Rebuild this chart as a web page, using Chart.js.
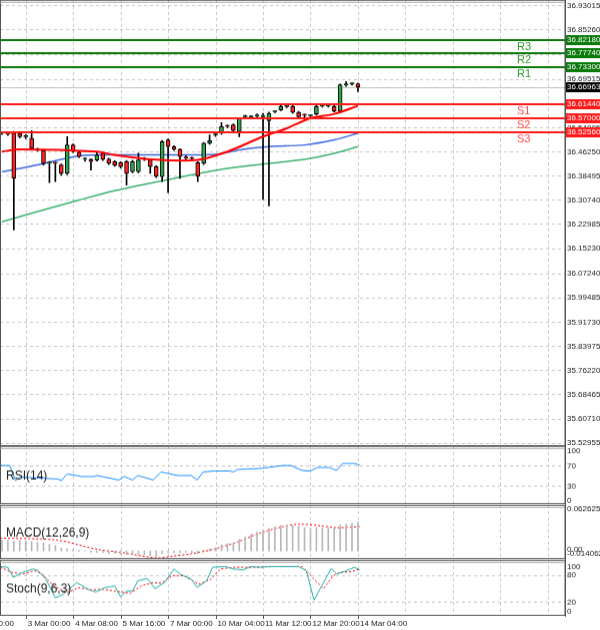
<!DOCTYPE html>
<html><head><meta charset="utf-8">
<script src="https://cdn.jsdelivr.net/npm/chart.js@4.4.1/dist/chart.umd.min.js"></script>
<style>
html,body{margin:0;padding:0;background:#fff;width:600px;height:630px;overflow:hidden;position:relative}
canvas{position:absolute;left:0}
</style></head><body>
<canvas id="cMain"></canvas>
<canvas id="cRsi"></canvas>
<canvas id="cMacd"></canvas>
<canvas id="cSto"></canvas>
<script>
// ---------- DATA ----------
const opens  = [36.5220,36.5210,36.5230,36.5220,36.5113,36.5060,36.4708,36.4665,36.4259,36.4270,36.4205,36.3938,36.4846,36.4611,36.4388,36.4387,36.4366,36.4579,36.4387,36.4312,36.4280,36.4312,36.3992,36.3992,36.4419,36.4366,36.4152,36.3831,36.5007,36.4793,36.4708,36.4440,36.4419,36.4280,36.4259,36.4900,36.5167,36.5220,36.5455,36.5487,36.5274,36.5754,36.5744,36.5775,36.5754,36.5626,36.5914,36.5968,36.6075,36.6075,36.5893,36.5807,36.5786,36.5840,36.6096,36.6096,36.6075,36.5936,36.6770,36.6802,36.6802];
const closes = [36.5230,36.5190,36.3788,36.5113,36.5135,36.4739,36.4690,36.4259,36.4270,36.4259,36.3938,36.4846,36.4633,36.4472,36.4398,36.4312,36.4526,36.4387,36.4259,36.4205,36.4152,36.3938,36.4312,36.4366,36.4387,36.4152,36.3853,36.4953,36.4793,36.4708,36.4472,36.4430,36.4408,36.3853,36.4900,36.4985,36.5177,36.5434,36.5445,36.5306,36.5690,36.5764,36.5754,36.5786,36.5764,36.5861,36.5925,36.6075,36.6085,36.5893,36.5754,36.5800,36.5796,36.6075,36.6106,36.6100,36.5936,36.6770,36.6780,36.6806,36.6696];
const highs  = [36.5260,36.5240,36.5280,36.5250,36.5180,36.5305,36.4740,36.4700,36.4320,36.4300,36.4240,36.5113,36.4880,36.4640,36.4440,36.4410,36.4633,36.4620,36.4420,36.4340,36.4310,36.4350,36.4360,36.4579,36.4450,36.4400,36.4180,36.4990,36.5040,36.4820,36.4730,36.4500,36.4460,36.4320,36.4930,36.5167,36.5220,36.5562,36.5490,36.5520,36.5720,36.5800,36.5790,36.5840,36.5861,36.5900,36.5950,36.6110,36.6120,36.6110,36.5920,36.5840,36.5820,36.6110,36.6140,36.6140,36.6110,36.6800,36.6876,36.6840,36.6830];
const lows   = [36.5180,36.5150,36.2122,36.5080,36.5050,36.4686,36.4650,36.4205,36.3639,36.3670,36.3880,36.3900,36.4600,36.4440,36.4320,36.4045,36.4330,36.4350,36.4220,36.4160,36.4110,36.3564,36.3950,36.3950,36.4350,36.3938,36.3800,36.3671,36.3318,36.4670,36.3778,36.4380,36.4360,36.3671,36.4220,36.4870,36.5120,36.5190,36.5400,36.5270,36.5113,36.5720,36.5710,36.5740,36.3105,36.2891,36.5880,36.5940,36.6040,36.5860,36.5700,36.5648,36.5750,36.5810,36.6060,36.6060,36.5900,36.5900,36.6720,36.6760,36.6556];
const maRed   = [[0,36.4633],[3,36.4708],[16,36.4633],[19,36.4526],[25,36.4387],[33,36.4366],[38,36.4633],[44,36.5113],[48,36.5381],[52,36.5700],[56,36.5840],[60,36.6096]];
const maBlue  = [[0,36.3992],[6,36.4205],[13,36.4494],[19,36.4526],[36,36.4547],[40,36.4686],[45,36.4793],[51,36.4846],[56,36.5007],[60,36.5220]];
const maGreen = [[0,36.2389],[13,36.3083],[19,36.3383],[29,36.3778],[38,36.4099],[51,36.4387],[56,36.4579],[60,36.4793]];
const resistance = [36.73300,36.77740,36.82180];
const resistanceNames = ["R1","R2","R3"];
const support = [36.61440,36.57000,36.52560];
const supportNames = ["S1","S2","S3"];
const lastPrice = 36.66963;
const priceTicks = [36.93015,36.85260,36.77505,36.69515,36.61760,36.54005,36.46250,36.38495,36.30740,36.22985,36.15230,36.07240,35.99485,35.91730,35.83975,35.76220,35.68465,35.60710,35.52955];
const rsi = [[-0.3,71],[1.3,71],[2.3,41],[3,48],[9.4,44],[10,41],[11,54],[13.5,49],[15.5,49],[16,51],[19.7,42],[20.6,49],[22,42],[22.9,51],[25.5,42],[26.8,58],[29.7,51],[31.9,51],[32.9,42],[33.9,58],[35.8,60],[38.4,60],[39,58],[39.7,63],[43.5,65],[44.8,67],[47.4,71],[48.7,71],[50.6,61],[51.9,60],[53.2,67],[55.2,67],[56.4,61],[57.4,75],[59.4,75],[60.3,72]];
const macdHist = [0.016,0.016,0.015,0.016,0.015,0.014,0.013,0.012,0.010,0.008,0.004,0.003,0.002,0.001,0.000,-0.002,-0.003,-0.003,-0.004,-0.004,-0.005,-0.006,-0.005,-0.005,-0.006,-0.007,-0.008,-0.004,-0.003,-0.003,-0.003,-0.002,-0.002,-0.004,0.001,0.003,0.005,0.009,0.011,0.012,0.017,0.021,0.025,0.028,0.031,0.034,0.036,0.038,0.039,0.038,0.037,0.035,0.034,0.035,0.035,0.035,0.034,0.039,0.040,0.041,0.043];
const macdSignal = [[-0.3,0.0193],[9.3,0.0161],[15.8,0.0027],[20.3,-0.0027],[26.1,-0.0107],[28.7,-0.0080],[31.9,-0.0043],[35.8,0.0027],[39.7,0.0134],[43.5,0.0268],[47.4,0.0364],[50,0.0401],[53.9,0.0375],[56.4,0.0348],[60.3,0.0364]];
const stochMain = [[-0.3,100],[1,98.5],[1.9,75.8],[3.5,87.2],[5.2,94.7],[6.1,91],[7.4,72],[9,30.3],[10.3,37.9],[12.6,64.4],[14.5,49.3],[15.8,43.2],[17.4,53.1],[19,56.9],[20,32.6],[21,45.5],[22,45.5],[22.9,68.2],[24.5,73.5],[25.8,50.8],[27.4,64.4],[29,94.7],[30,83.4],[31.9,72],[32.9,53.1],[34.5,68.2],[35.5,98.5],[37.7,100],[39,94.7],[40.6,92.5],[41.9,100],[43.5,98.5],[44.8,100],[46.8,100],[48.7,100],[50,100],[51.3,91],[52.6,25],[53.9,56.9],[55.5,96],[56.4,83.4],[57.7,88.7],[59.4,98.5],[60.3,92.5]];
const stochSignal = [[-0.3,98.5],[1.6,87.2],[3.5,83.4],[5.5,91],[6.8,83.4],[8.7,56.9],[11,41.7],[12.9,53.1],[15.2,47.8],[17.1,49.3],[19,45.5],[21.6,40.2],[23.5,56.9],[25.5,64.4],[26.8,62.9],[28.7,79.6],[30.6,79.6],[33.2,60.6],[35.2,72],[36.8,94.7],[39,98.5],[42.3,98.5],[46.1,100],[48.7,100],[50.6,100],[52.6,72],[54.2,50.8],[55.8,79.6],[57.1,87.2],[59,88.7],[60.3,94.7]];
const timeTicks = [-5.5,4,12,20,28,36,44,52,60];
const timeLabels = ["2 Mar 20:00","3 Mar 00:00","4 Mar 08:00","5 Mar 16:00","7 Mar 00:00","10 Mar 04:00","11 Mar 12:00","12 Mar 20:00","14 Mar 04:00"];

// ---------- HELPERS ----------
const X_MIN=-0.33, X_MAX=94.9, AXW=35;
const idx = opens.map((_,i)=>i);
const pts = a => a.map(p=>({x:p[0],y:p[1]}));
const TF = {family:'Liberation Sans',size:8};

const vgrid = {id:'vgrid', beforeDatasetsDraw(ch){
  const c=ch.ctx, a=ch.chartArea, xs=ch.scales.x;
  c.save(); c.strokeStyle='#c8c8c8'; c.lineWidth=1; c.setLineDash([3,3]);
  for(let v=4; v<X_MAX; v+=8){ const px=Math.round(xs.getPixelForValue(v))+0.5;
    c.beginPath(); c.moveTo(px,a.top); c.lineTo(px,a.bottom); c.stroke(); }
  c.restore();
}};
const frame = {id:'frame', afterDraw(ch){
  const c=ch.ctx, a=ch.chartArea; c.save(); c.strokeStyle='#555'; c.lineWidth=1;
  c.strokeRect(0.5,a.top+0.5,a.right-0.5,a.bottom-a.top-1);
  c.strokeStyle='#aaa'; c.beginPath(); c.moveTo(0,a.top+2.5); c.lineTo(a.right,a.top+2.5); c.stroke();
  c.restore();
}};
function label(text){ return {id:'lbl', afterDatasetsDraw(ch){
  const c=ch.ctx,a=ch.chartArea; c.save(); c.font='12px "Liberation Sans"'; c.fillStyle='#222';
  c.textBaseline='middle'; c.fillText(text,6,(a.top+a.bottom)/2+1); c.restore(); }};}

function yAxis(min,max,vals,fmt,gridVals){
  return {position:'right',min,max,
    afterFit(s){s.width=AXW;},
    afterBuildTicks(s){s.ticks=vals.map(v=>({value:v}));},
    ticks:{font:TF,color:'#222',padding:2,autoSkip:false,callback:(v)=>fmt(v)},
    grid:{drawTicks:false,color:(ctx)=>gridVals.includes(ctx.tick&&ctx.tick.value)?'#c8c8c8':'rgba(0,0,0,0)'},
    border:{display:true,color:'#555',dash:[3,3]}
  };
}
function baseOpts(yScale,extraBottom){
  return {responsive:false,animation:false,devicePixelRatio:1,
    layout:{padding:{bottom:extraBottom||0}},
    plugins:{legend:{display:false},tooltip:{enabled:false}},
    scales:{x:{type:'linear',min:X_MIN,max:X_MAX,display:false,offset:false},y:yScale}};
}
function place(id,top,h,cfgFn){
  const cv=document.getElementById(id);
  cv.width=600; cv.height=h+20; cv.style.height=(h+20)+'px'; cv.style.width='600px';
  let ch=new Chart(cv,cfgFn());
  const pt=ch.chartArea.top, pb=(h+20)-ch.chartArea.bottom;
  ch.destroy();
  const H=h+pt+pb;
  cv.width=600; cv.height=H; cv.style.height=H+'px'; cv.style.top=(top-pt)+'px';
  return new Chart(cv,cfgFn());
}

// ---------- MAIN ----------
const srPlugin = {id:'sr',
  beforeDatasetsDraw(ch){
    const c=ch.ctx,a=ch.chartArea,ys=ch.scales.y; c.save();
    let py=Math.round(ys.getPixelForValue(lastPrice))+0.5;
    c.strokeStyle='#c0c0c0'; c.lineWidth=1; c.beginPath(); c.moveTo(0,py); c.lineTo(a.right,py); c.stroke();
    c.restore();
  },
  afterDatasetsDraw(ch){
    const c=ch.ctx,a=ch.chartArea,ys=ch.scales.y; c.save();
    c.lineWidth=2; c.font='11px "Liberation Sans"'; c.textBaseline='middle';
    resistance.forEach((v,i)=>{const py=Math.round(ys.getPixelForValue(v));
      c.strokeStyle='#0a7a0a'; c.beginPath(); c.moveTo(0,py); c.lineTo(a.right,py); c.stroke();
      c.fillStyle='#2e9a2e'; c.fillText(resistanceNames[i],517,py+7);});
    support.forEach((v,i)=>{const py=Math.round(ys.getPixelForValue(v));
      c.strokeStyle='#ff1a1a'; c.beginPath(); c.moveTo(0,py); c.lineTo(a.right,py); c.stroke();
      c.fillStyle='#ff4a4a'; c.fillText(supportNames[i],517,py+7);});
    c.restore();
  },
  afterDraw(ch){
    const c=ch.ctx,a=ch.chartArea,ys=ch.scales.y; c.save();
    c.font='8px "Liberation Sans"'; c.textBaseline='middle';
    const box=(v,bg)=>{const py=Math.round(ys.getPixelForValue(v)); c.fillStyle=bg;
      c.fillRect(a.right+1,py-5,600-a.right-1,10); c.fillStyle='#fff'; c.fillText(v.toFixed(5),a.right+2,py);};
    resistance.forEach(v=>box(v,'#0a7a0a')); support.forEach(v=>box(v,'#ff1a1a')); box(lastPrice,'#000');
    c.restore();
  }};
place('cMain',0,446,()=>({
  data:{datasets:[
    {type:'line',data:pts(maGreen),borderColor:'#3cb371',borderWidth:1.5,pointRadius:0,tension:0.3},
    {type:'line',data:pts(maBlue),borderColor:'#4169e1',borderWidth:1.5,pointRadius:0,tension:0.3},
    {type:'bar',grouped:false,data:idx.map(i=>({x:i,y:[lows[i],highs[i]]})),backgroundColor:'#000',barThickness:1,order:-1},
    {type:'bar',grouped:false,data:idx.map(i=>({x:i,y:[opens[i],closes[i]]})),
      backgroundColor:idx.map(i=>closes[i]>=opens[i]?'#2ea44f':'#ff2020'),borderColor:'#000',borderWidth:1,borderSkipped:false,barThickness:4,minBarLength:1,order:-2},
    {type:'line',data:pts(maRed),borderColor:'#ff0000',borderWidth:2,pointRadius:0,tension:0.3,order:-3}
  ]},
  options:baseOpts(yAxis(35.5199,36.9494,priceTicks,v=>v.toFixed(5),priceTicks)),
  plugins:[vgrid,srPlugin,frame]
}));

// ---------- RSI ----------
place('cRsi',446,58,()=>({
  data:{datasets:[{type:'line',data:pts(rsi),borderColor:'#1e90ff',borderWidth:1,pointRadius:0}]},
  options:baseOpts(yAxis(-6,110,[100,70,30,0],v=>String(v),[70,30])),
  plugins:[vgrid,frame,label('RSI(14)')]
}));

// ---------- MACD ----------
place('cMacd',505,54,()=>({
  data:{datasets:[
    {type:'bar',grouped:false,data:idx.map(i=>({x:i,y:macdHist[i]})),backgroundColor:'#b8b8b8',barThickness:1},
    {type:'line',data:pts(macdSignal),borderColor:'#ff0000',borderWidth:1,borderDash:[2,2],pointRadius:0,tension:0.3}
  ]},
  options:baseOpts(yAxis(-0.0124,0.069,[0.062625,0.0018,-0.0045],v=>v===0.062625?'0.062625':(v>0?'0.00':'-0.014062'),[])),
  plugins:[vgrid,frame,label('MACD(12,26,9)')]
}));

// ---------- STOCH ----------
const timeAxis={id:'timeAxis',afterDraw(ch){
  const c=ch.ctx,a=ch.chartArea,xs=ch.scales.x; c.save(); c.font='8px "Liberation Sans"'; c.fillStyle='#222'; c.textBaseline='middle';
  timeTicks.forEach((v,i)=>{const px=xs.getPixelForValue(v); c.fillText(timeLabels[i],px+2,a.bottom+8);
    c.strokeStyle='#555'; c.beginPath(); c.moveTo(Math.round(px)+0.5,a.bottom); c.lineTo(Math.round(px)+0.5,a.bottom+3); c.stroke();});
  c.restore();}};
place('cSto',560,56,()=>({
  data:{datasets:[
    {type:'line',data:pts(stochMain),borderColor:'#20b2aa',borderWidth:1,pointRadius:0},
    {type:'line',data:pts(stochSignal),borderColor:'#ff0000',borderWidth:1,borderDash:[2,2],pointRadius:0}
  ]},
  options:baseOpts(yAxis(-10,115,[100,80,20,0],v=>String(v),[80,20]),16),
  plugins:[vgrid,frame,label('Stoch(9,6,3)'),timeAxis]
}));
</script></body></html>
